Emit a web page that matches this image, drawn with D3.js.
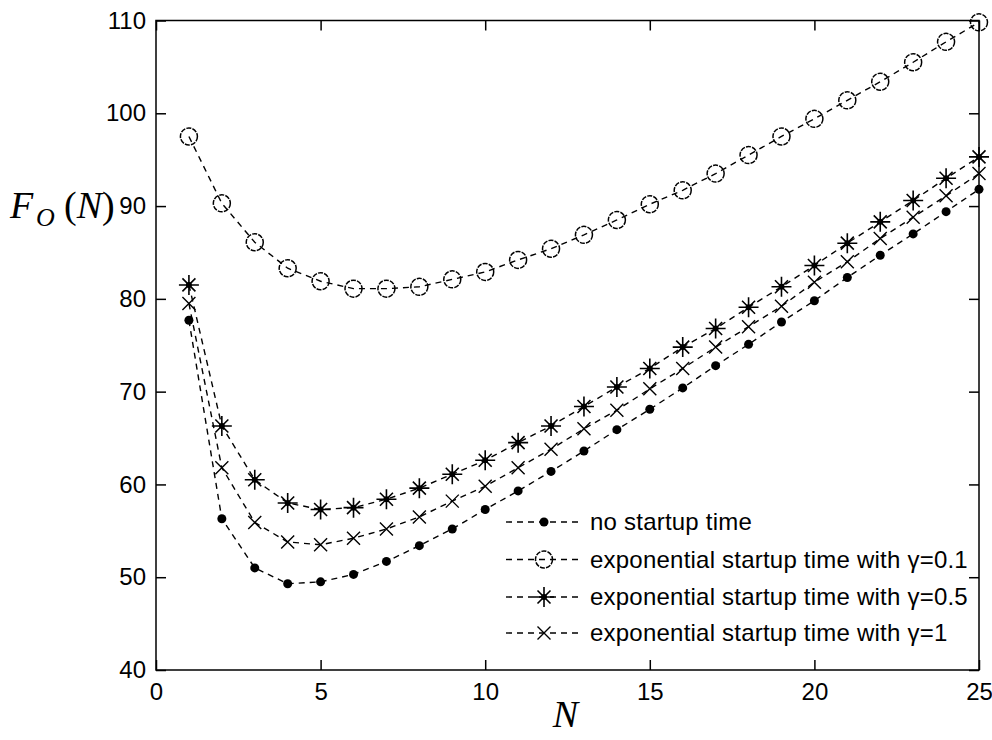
<!DOCTYPE html>
<html>
<head>
<meta charset="utf-8">
<script src="https://cdn.jsdelivr.net/npm/d3@7"></script>
<style>
body { margin: 0; background: #fff; }
svg { display: block; }
</style>
</head>
<body>
<svg></svg>
<script>
// Data
const N = d3.range(1, 26);
const noStartup = [77.7, 56.3, 51.0, 49.3, 49.5, 50.3, 51.7, 53.4, 55.2, 57.3, 59.3, 61.4, 63.6, 65.9, 68.1, 70.4, 72.8, 75.1, 77.5, 79.8, 82.3, 84.7, 87.0, 89.4, 91.8];
const gamma01 = [97.5, 90.3, 86.1, 83.3, 81.9, 81.1, 81.1, 81.3, 82.1, 82.9, 84.2, 85.4, 86.9, 88.5, 90.2, 91.7, 93.5, 95.5, 97.5, 99.4, 101.4, 103.4, 105.5, 107.7, 109.8];
const gamma05 = [81.5, 66.3, 60.5, 58.0, 57.3, 57.5, 58.4, 59.6, 61.1, 62.6, 64.5, 66.3, 68.4, 70.5, 72.5, 74.8, 76.8, 79.1, 81.3, 83.6, 86.0, 88.3, 90.6, 93.0, 95.3];
const gamma1 = [79.5, 61.8, 55.9, 53.8, 53.5, 54.2, 55.2, 56.5, 58.2, 59.8, 61.8, 63.8, 66.0, 68.0, 70.3, 72.5, 74.8, 77.0, 79.2, 81.8, 84.0, 86.5, 88.8, 91.1, 93.5];

const seriesNames = ["no startup time", "exponential startup time with \u03b3=0.1", "exponential startup time with \u03b3=0.5", "exponential startup time with \u03b3=1"];
const seriesMarkers = ["dot", "circle", "star", "cross"];
const seriesValues = [noStartup, gamma01, gamma05, gamma1];

const xTicks = [0, 5, 10, 15, 20, 25];
const yTicks = [40, 50, 60, 70, 80, 90, 100, 110];

const width = 992, height = 740;
const margin = {top: 20.5, right: 13, bottom: 70, left: 156};

const svg = d3.select("svg").attr("width", width).attr("height", height);

const x = d3.scaleLinear().domain([0, 25]).range([margin.left, width - margin.right]);
const y = d3.scaleLinear().domain([40, 110]).range([height - margin.bottom, margin.top]);

const tickFont = "'Liberation Sans', Arial, sans-serif";

// markers
const drawMarker = (g, type) => {
	if (type === "dot") {
		g.append("circle").attr("r", 4.5).attr("fill", "#000");
	} else if (type === "circle") {
		g.append("circle").attr("r", 8.5).attr("fill", "none")
			.attr("stroke", "#000").attr("stroke-width", 1.5)
			.attr("stroke-dasharray", "5,1.2");
	} else if (type === "star") {
		const s = 10, d = 6.5;
		g.append("path")
			.attr("d", `M${-s},0H${s}M0,${-s}V${s}M${-d},${-d}L${d},${d}M${-d},${d}L${d},${-d}`)
			.attr("stroke", "#000").attr("stroke-width", 1.6);
		g.append("circle").attr("r", 3).attr("fill", "#000");
	} else if (type === "cross") {
		const d = 6.5;
		g.append("path")
			.attr("d", `M${-d},${-d}L${d},${d}M${-d},${d}L${d},${-d}`)
			.attr("stroke", "#000").attr("stroke-width", 1.4);
	}
};

const line = d3.line()
	.x((d, i) => x(N[i]))
	.y(d => y(d));

// Lines + markers
seriesValues.forEach((vals, k) => {
	svg.append("path")
		.datum(vals)
		.attr("fill", "none")
		.attr("stroke", "#000")
		.attr("stroke-width", 1.4)
		.attr("stroke-dasharray", "6,5")
		.attr("d", line);

	svg.append("g").selectAll("g")
		.data(vals)
		.join("g")
		.attr("transform", (d, i) => `translate(${x(N[i])},${y(d)})`)
		.each(function() { drawMarker(d3.select(this), seriesMarkers[k]); });
});

// Axes box
const plotW = x(25) - x(0), plotH = y(40) - y(110);
svg.append("rect")
	.attr("x", x(0)).attr("y", y(110))
	.attr("width", plotW).attr("height", plotH)
	.attr("fill", "none").attr("stroke", "#000").attr("stroke-width", 1.5);

// x-axis (ticks inward)
svg.append("g")
	.attr("transform", `translate(0, ${y(40)})`)
	.call(d3.axisBottom(x).tickValues(xTicks).tickSizeInner(-10).tickSizeOuter(0).tickPadding(13))
	.call(g => g.select(".domain").remove())
	.call(g => g.selectAll("line").attr("stroke-width", 1.5))
	.call(g => g.selectAll("text").attr("font-family", tickFont).attr("font-size", 24).attr("fill", "#000"));

svg.append("g")
	.attr("transform", `translate(0, ${y(110)})`)
	.call(d3.axisTop(x).tickValues(xTicks).tickSizeInner(-10).tickSizeOuter(0).tickFormat(""))
	.call(g => g.select(".domain").remove())
	.call(g => g.selectAll("line").attr("stroke-width", 1.5));

// y-axis
svg.append("g")
	.attr("transform", `translate(${x(0)}, 0)`)
	.call(d3.axisLeft(y).tickValues(yTicks).tickSizeInner(-10).tickSizeOuter(0).tickPadding(10))
	.call(g => g.select(".domain").remove())
	.call(g => g.selectAll("line").attr("stroke-width", 1.5))
	.call(g => g.selectAll("text").attr("font-family", tickFont).attr("font-size", 24).attr("fill", "#000"));

svg.append("g")
	.attr("transform", `translate(${x(25)}, 0)`)
	.call(d3.axisRight(y).tickValues(yTicks).tickSizeInner(-10).tickSizeOuter(0).tickFormat(""))
	.call(g => g.select(".domain").remove())
	.call(g => g.selectAll("line").attr("stroke-width", 1.5));

// Axis labels
const labelFont = "'Liberation Serif', 'Times New Roman', serif";
svg.append("text")
	.attr("x", x(12.5) - 2).attr("y", 727)
	.attr("text-anchor", "middle")
	.attr("font-family", labelFont).attr("font-style", "italic").attr("font-size", 38)
	.text("N");

const yl = svg.append("text")
	.attr("y", 218)
	.attr("font-family", labelFont).attr("font-size", 38);
yl.append("tspan").attr("x", 10).attr("font-style", "italic").text("F");
yl.append("tspan").attr("x", 36).attr("font-style", "italic").attr("font-size", 26).attr("dy", 8).text("O");
yl.append("tspan").attr("x", 64).attr("dy", -8).text("(");
yl.append("tspan").attr("font-style", "italic").text("N");
yl.append("tspan").text(")");

// Legend
const legend = svg.append("g");
const rowY = [522, 559.5, 597, 633];
seriesNames.forEach((name, k) => {
	const r = legend.append("g").attr("transform", `translate(0, ${rowY[k]})`);
	r.append("line").attr("x1", 506).attr("x2", 581)
		.attr("stroke", "#000").attr("stroke-width", 1.4).attr("stroke-dasharray", "6,5");
	const m = r.append("g").attr("transform", "translate(544, 0)");
	drawMarker(m, seriesMarkers[k]);
	r.append("text").attr("x", 590).attr("y", 8)
		.attr("font-family", tickFont).attr("font-size", 24)
		.attr("letter-spacing", 0.22)
		.text(name);
});
</script>
</body>
</html>
